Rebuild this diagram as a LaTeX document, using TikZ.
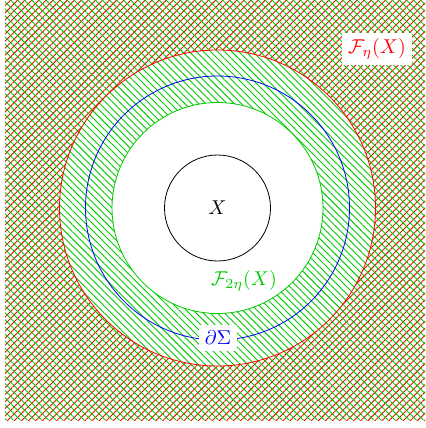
\documentclass[tikz,border=0pt]{standalone}
\usetikzlibrary{patterns.meta}
\definecolor{hgreen}{rgb}{0,0.8,0}
\begin{document}
\begin{tikzpicture}[x=0.5pt,y=-0.5pt,
  lbl/.style={inner sep=3pt},
  redhatch/.style={pattern={Lines[angle=45,distance=2.5pt,line width=0.45pt]}, pattern color=red},
  greenhatch/.style={pattern={Lines[angle=-45,distance=2.5pt,line width=0.45pt]}, pattern color=hgreen}]
\useasboundingbox (0,0) rectangle (425,428);
\coordinate (C) at (217.5,208);
% red hatching outside F_eta
\fill[redhatch] (5,0) rectangle (425,420);
\fill[white] (C) circle[radius=79pt];
% green hatching outside F_{2eta}
\fill[greenhatch, even odd rule]
  (5,0) rectangle (425,420) (C) circle[radius=52.75pt];
% circles
\draw[red] (C) circle[radius=79pt];
\draw[blue] (C) circle[radius=66pt];
\draw[hgreen] (C) circle[radius=52.75pt];
\draw[black] (C) circle[radius=26.5pt];
% labels
\node[lbl] (x) at (C) {$X$};
\node[lbl, fill=white, text=red] (feta) at (377,49) {$\mathcal{F}_\eta(X)$};
\node[lbl, text=hgreen] (f2eta) at (244,281) {$\mathcal{F}_{2\eta}(X)$};
\node[lbl, fill=white, text=blue] (sigma) at (218,338) {$\partial\Sigma$};
\end{tikzpicture}
\end{document}
